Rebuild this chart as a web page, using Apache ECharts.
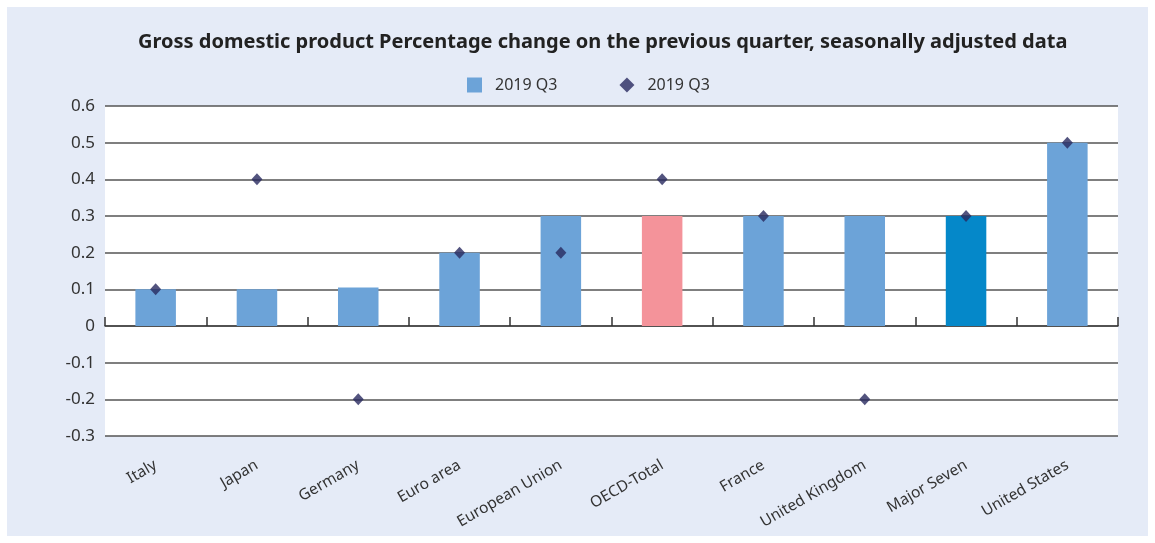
<!DOCTYPE html>
<html>
  <head>
    <meta charset="utf-8" />
    <title>GDP Q3 2019</title>
    <script src="https://cdn.jsdelivr.net/npm/echarts@6/dist/echarts.min.js"></script>
    <style>
      html, body { margin: 0; padding: 0; background: #ffffff; }
    </style>
  </head>
  <body>
    <div id="main" style="width: 1155px; height: 543px"></div>
    <script>
      // categories + values
      var countries = ["Italy", "Japan", "Germany", "Euro area", "European Union",
        "OECD-Total", "France", "United Kingdom", "Major Seven", "United States"];
      var barValues = [0.1, 0.1, 0.105, 0.2, 0.3, 0.3, 0.3, 0.3, 0.3, 0.5];
      var dotValues = [0.1, 0.4, -0.2, 0.2, 0.2, 0.4, 0.3, -0.2, 0.3, 0.5];
      var yTicks = { min: -0.3, max: 0.6, step: 0.1 };

      var barColor = "#6ca3d8";
      var dotColor = "#28295f";
      var highlight = { "OECD-Total": "#f4939a", "Major Seven": "#0588c9" };

      var myChart = echarts.init(document.getElementById("main"));
      var font = "'Noto Sans', 'Open Sans', sans-serif";

      var option = {
        backgroundColor: "#ffffff",
        textStyle: { fontFamily: font },
        graphic: [
          {
            type: "rect",
            z: -10,
            shape: { x: 7, y: 7, width: 1141, height: 529 },
            style: { fill: "#e5ebf7" },
          },
          {
            type: "rect",
            z: -9,
            shape: { x: 105, y: 106, width: 1013, height: 330 },
            style: { fill: "#ffffff" },
          },
        ],
        title: {
          text: "Gross domestic product Percentage change on the previous quarter, seasonally adjusted data",
          left: 133,
          top: 27,
          textStyle: { fontSize: 20, fontWeight: "bold", color: "#222", fontFamily: font },
        },
        legend: {
          top: 72,
          left: 462,
          itemGap: 62,
          itemWidth: 15,
          itemHeight: 15,
          textStyle: { fontSize: 16, color: "#333", padding: [0, 0, 0, 8] },
          data: [
            { name: "bar", icon: "rect" },
            { name: "dot", icon: "diamond", itemStyle: { color: dotColor } },
          ],
          formatter: function () { return "2019 Q3"; },
        },
        grid: {
          left: 105, right: 37, top: 106, bottom: 107,
          containLabel: false, outerBoundsMode: "none",
        },
        xAxis: [
          {
            // labels along the bottom edge
            type: "category",
            data: countries,
            position: "bottom",
            axisLine: { show: false, onZero: false },
            axisTick: { show: false },
            axisLabel: {
              rotate: 30,
              margin: 28,
              fontSize: 15.5,
              color: "#333",
              interval: 0,
            },
          },
          {
            // zero line with the upward ticks
            type: "category",
            data: countries,
            position: "bottom",
            axisLine: { onZero: true, lineStyle: { color: "#444", width: 1.5 } },
            axisTick: {
              show: true, inside: true, length: 9, interval: 0,
              lineStyle: { color: "#333", width: 1.5 },
            },
            axisLabel: { show: false, interval: 0 },
          },
        ],
        yAxis: {
          type: "value",
          min: yTicks.min,
          max: yTicks.max,
          interval: yTicks.step,
          axisLine: { show: false },
          axisTick: { show: false },
          axisLabel: {
            fontSize: 17,
            color: "#333",
            margin: 10,
            formatter: function (v) {
              var r = Math.round(v * 10) / 10;
              return r === 0 ? "0" : r.toFixed(1);
            },
          },
          splitLine: { lineStyle: { color: "#555", width: 1.5 } },
        },
        series: [
          {
            name: "bar",
            type: "bar",
            barWidth: "40%",
            itemStyle: { color: barColor },
            data: barValues.map(function (v, i) {
              var c = highlight[countries[i]];
              return c ? { value: v, itemStyle: { color: c } } : v;
            }),
          },
          {
            name: "dot",
            type: "scatter",
            symbol: "diamond",
            symbolSize: [11, 12],
            itemStyle: { color: dotColor },
            data: dotValues,
            z: 5,
          },
        ],
      };

      myChart.setOption(option);
    </script>
  </body>
</html>
